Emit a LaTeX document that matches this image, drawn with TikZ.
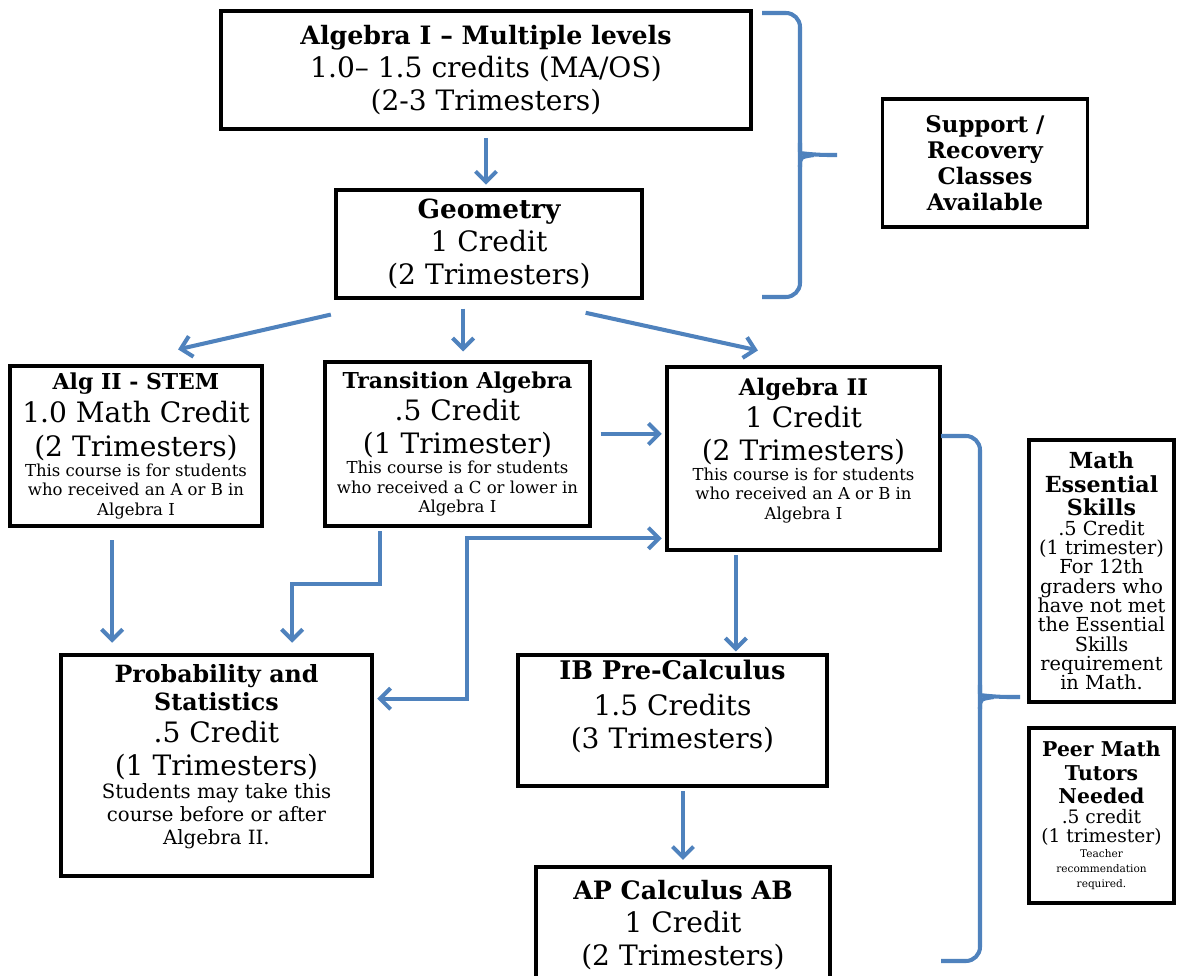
\documentclass[tikz,border=0pt]{standalone}
\usepackage{fontspec}
\setmainfont{DejaVu Serif}
\usetikzlibrary{arrows.meta}
\tikzset{course/.style = {draw, line width = 2pt, inner sep = 0pt}}
\tikzset{sidebox/.style = {draw, line width = 1.8pt, inner sep = 0pt}}
\tikzset{flow/.style = {lblue, line width = 2.3pt,
                        >={Straight Barb[length = 6pt, width = 12pt]}, ->,
                        shorten < = 2pt, shorten > = 2pt}}
\tikzset{grouping/.style = {lblue, line width = 2.3pt, rounded corners = 8pt}}
\definecolor{lblue}{rgb}{0.31, 0.51, 0.74}
\newcommand{\boxtext}[2]{\begin{minipage}{#1}\centering #2\end{minipage}}
\newcommand{\lift}[1]{\par\rule{0pt}{#1}}
\newcommand{\ctitle}[1]{\fontsize{#1}{17}\selectfont\bfseries}
\newcommand{\cbody}{\fontsize{16}{18.6}\selectfont\mdseries}
\newcommand{\cnote}{\fontsize{9.4}{11.2}\selectfont\mdseries}
\newcommand{\pnote}{\fontsize{11.2}{13}\selectfont\mdseries}
\newcommand{\stitle}[1]{\fontsize{#1}{13.4}\selectfont\bfseries}
\newcommand{\snote}[1]{\fontsize{#1}{11}\selectfont\mdseries}
\newcommand{\stiny}{\fontsize{6}{8.6}\selectfont\mdseries}

\begin{document}
\begin{tikzpicture}[x = 0.02cm, y = -0.02cm]
      \path [use as bounding box, fill = white] (0, 0) rectangle (1178, 976);
      \node [course, minimum width = 10.6cm, minimum height = 2.36cm] (alga) at (486, 70)
        {\boxtext{10cm}{\ctitle{14.4} Algebra I – Multiple levels\par
         \cbody 1.0– 1.5 credits (MA/OS)\\ (2-3 Trimesters)}};
      \node [course, minimum width = 6.12cm, minimum height = 2.16cm] (geom) at (489, 244)
        {\boxtext{5.9cm}{\ctitle{15} Geometry\par \cbody 1 Credit\\ (2 Trimesters)}};
      \node [sidebox, minimum width = 4.1cm, minimum height = 2.56cm] (supp) at (985, 163)
        {\boxtext{3.9cm}{\fontsize{13}{14.7}\selectfont\bfseries Support /\\ Recovery\\ Classes\\ Available}};
      \node [course, minimum width = 5.04cm, minimum height = 3.2cm] (stem) at (136, 446)
        {\boxtext{4.9cm}{\ctitle{12.5} Alg II - STEM\par \fontsize{16}{19}\selectfont\mdseries 1.0 Math Credit\\ (2 Trimesters)\par
         \cnote This course is for students\\ who received an A or B in\\ Algebra I}};
      \node [course, minimum width = 5.3cm, minimum height = 3.28cm] (trans) at (457.5, 444)
        {\boxtext{5.2cm}{\ctitle{12.5} Transition Algebra\par \cbody .5 Credit\\ (1 Trimester)\par
         \cnote This course is for students\\ who received a C or lower in\\ Algebra I}};
      \node [course, minimum width = 5.46cm, minimum height = 3.66cm] (alg2) at (803.5, 458.5)
        {\boxtext{5.3cm}{\ctitle{13} Algebra II\par \cbody 1 Credit\\ (2 Trimesters)\par
         \cnote This course is for students\\ who received an A or B in\\ Algebra I\lift{5pt}}};
      \node [course, minimum width = 6.22cm, minimum height = 4.42cm] (prob) at (216.5, 765.5)
        {\boxtext{6cm}{\fontsize{13.5}{16}\selectfont\bfseries Probability and\\ Statistics\par
         \cbody .5 Credit\\ (1 Trimesters)\par
         \pnote Students may take this\\ course before or after\\ Algebra II.\lift{4pt}}};
      \node [course, minimum width = 6.18cm, minimum height = 2.62cm] (ib) at (672.5, 720.5)
        {\boxtext{6cm}{\ctitle{14.6} IB Pre-Calculus\par \cbody\vspace{2pt} 1.5 Credits\\ (3 Trimesters)\lift{12pt}}};
      \node [course, minimum width = 5.88cm, minimum height = 2.32cm] (ap) at (683, 925)
        {\boxtext{5.7cm}{\ctitle{14.4} AP Calculus AB\par \cbody 1 Credit\\ (2 Trimesters)}};
      \node [sidebox, minimum width = 2.9cm, minimum height = 5.24cm] (mes) at (1101.5, 571)
        {\boxtext{2.85cm}{\stitle{12.6} Math\\ Essential\\ Skills\par
         \snote{11} .5 Credit\\ (1 trimester)\\ For 12th\\ graders who\\ have not met\\
         the Essential\\ Skills\\ requirement\\ in Math.}};
      \node [sidebox, minimum width = 2.9cm, minimum height = 3.5cm] (peer) at (1101.5, 815.5)
        {\boxtext{2.85cm}{\stitle{11.6} Peer Math\\ Tutors\\ Needed\par
         \snote{10.6} .5 credit\\ (1 trimester)\par
         \stiny Teacher\\ recommendation\\ required.}};
      \draw [flow, shorten < = 4pt] (alga.south) -- (alga.south |- geom.north);
      \draw [flow] ([yshift = -8pt]geom.south west) -- ([xshift = 22pt, yshift = 8pt]stem.north);
      \draw [flow, shorten < = 5pt, shorten > = 5pt] ([xshift = -14.7pt]geom.south) -- ([xshift = -14.7pt]geom.south |- trans.north);
      \draw [flow] ([xshift = -35pt, yshift = -7pt]geom.south east) -- ([xshift = -24pt, yshift = 8pt]alg2.north);
      \draw [flow, shorten < = 5pt] ([yshift = 5.7pt]trans.east) -- ([yshift = 5.7pt]trans.east -| alg2.west);
      \draw [flow, shorten < = 7pt, shorten > = 6pt] ([xshift = -13.6pt]stem.south) -- ([xshift = -13.6pt]stem.south |- prob.north);
      \draw [flow, shorten > = 6pt] ([xshift = -43.9pt]trans.south) -- ++(0, 56) -| ([xshift = 43pt]prob.north);
      \draw [flow, <->] ([yshift = 38pt]prob.east) -- ++(93, 0) |- ([yshift = -45.4pt]alg2.west);
      \draw [flow, shorten > = 1pt] ([xshift = -38.5pt]alg2.south) -- ([xshift = -38.5pt]alg2.south |- ib.north);
      \draw [flow, shorten > = 3pt] (ib.south -| ap.north) -- (ap.north);
      \draw [grouping] (762, 13) -- (800, 13) -- (800, 297) -- (762, 297);
      \draw [grouping] (800, 143) .. controls (800, 153) .. (814, 155) -- (837, 155);
      \draw [grouping] (800, 167) .. controls (800, 157) .. (814, 155);
      \draw [grouping] (941, 436) -- (980, 436) -- (980, 961) -- (941, 961);
      \draw [grouping] (980, 685) .. controls (980, 695) .. (994, 697) -- (1020, 697);
      \draw [grouping] (980, 709) .. controls (980, 699) .. (994, 697);
\end{tikzpicture}
\end{document}
